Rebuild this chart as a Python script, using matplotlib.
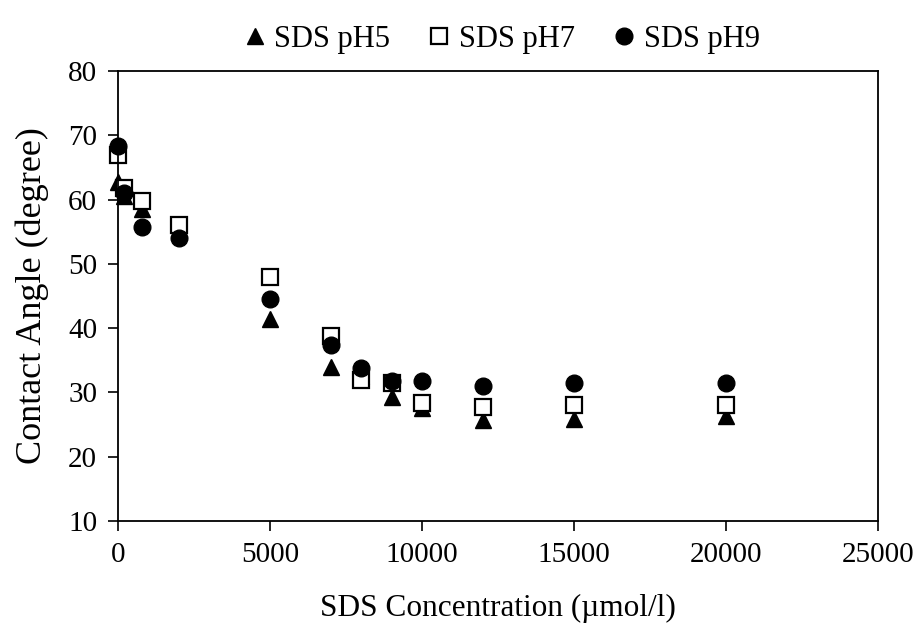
import matplotlib.pyplot as plt

plt.rcParams['font.family'] = ['Liberation Serif', 'DejaVu Serif']

# SDS concentration (umol/l) and contact angle (degree)
conc = [0, 200, 800, 2000, 5000, 7000, 8000, 9000, 10000, 12000, 15000, 20000]
ph5 = [62.8, 60.5, 58.5, 55.2, 41.5, 34.0, 32.5, 29.3, 27.6, 25.7, 25.9, 26.3]
ph7 = [67.0, 61.8, 59.8, 56.0, 48.0, 38.8, 32.0, 31.4, 28.4, 27.8, 28.0, 28.0]
ph9 = [68.3, 61.0, 55.8, 54.0, 44.5, 37.4, 33.8, 31.8, 31.8, 31.0, 31.5, 31.4]

fig = plt.figure(figsize=(9.2, 6.26), dpi=100)
ax = fig.add_axes([0.1283, 0.1677, 0.8260, 0.7189])

ax.plot(conc, ph5, ls='none', marker='^', ms=12, color='black',
        clip_on=False, label='SDS pH5')
ax.plot(conc, ph7, ls='none', marker='s', ms=12, mfc='white', mec='black',
        mew=1.6, clip_on=False, label='SDS pH7')
ax.plot(conc, ph9, ls='none', marker='o', ms=12, color='black',
        clip_on=False, label='SDS pH9')

ax.set_xlim(0, 25000)
ax.set_ylim(10, 80)
ax.set_xticks(range(0, 25001, 5000))
ax.set_yticks(range(10, 81, 10))
ax.tick_params(direction='out', length=7, width=1.2, labelsize=21, pad=8)
for s in ax.spines.values():
    s.set_linewidth(1.3)

ax.set_xlabel('SDS Concentration (\u00b5mol/l)', fontsize=22.5, labelpad=19)
ax.set_ylabel('Contact Angle (degree)', fontsize=26, labelpad=14)

fig.legend(loc='center', bbox_to_anchor=(0.543, 0.937), ncol=3, frameon=False,
           fontsize=22, handletextpad=0.15, columnspacing=1.1, handlelength=1.0,
           markerscale=1.0)

fig.savefig('out.png', dpi=100)
